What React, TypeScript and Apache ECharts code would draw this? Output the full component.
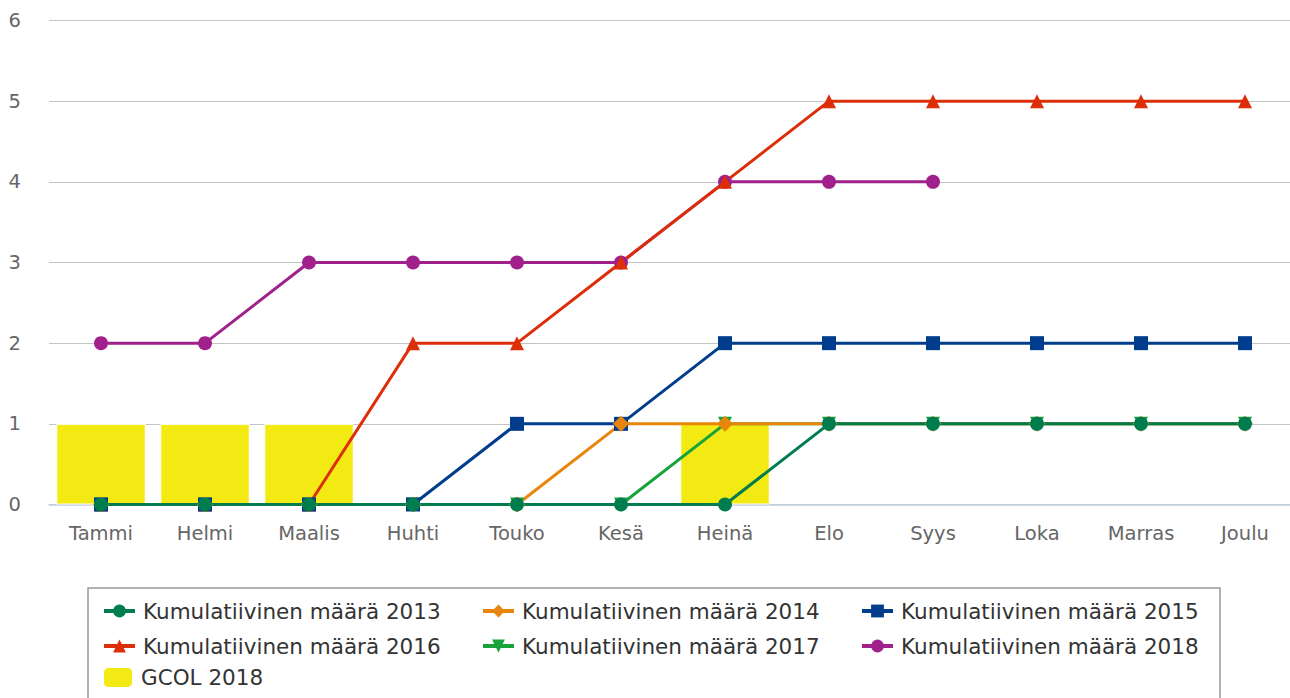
import React, { useEffect, useRef } from "react";
import * as echarts from "echarts";

const months = ["Tammi", "Helmi", "Maalis", "Huhti", "Touko", "Kesä", "Heinä", "Elo", "Syys", "Loka", "Marras", "Joulu"];
const yTicks = [0, 1, 2, 3, 4, 5, 6];
const s2013 = [0, 0, 0, 0, 0, 0, 0, 1, 1, 1, 1, 1];
const s2014 = [0, 0, 0, 0, 0, 1, 1, 1, 1, 1, 1, 1];
const s2015 = [0, 0, 0, 0, 1, 1, 2, 2, 2, 2, 2, 2];
const s2016 = [0, 0, 0, 2, 2, 3, 4, 5, 5, 5, 5, 5];
const s2017 = [0, 0, 0, 0, 0, 0, 1, 1, 1, 1, 1, 1];
const s2018 = [2, 2, 3, 3, 3, 3, 4, 4, 4, null, null, null];
const gcol2018 = [1, 1, 1, null, null, null, 1, null, null, null, null, null];

const names = [
  "Kumulatiivinen määrä 2013",
  "Kumulatiivinen määrä 2014",
  "Kumulatiivinen määrä 2015",
  "Kumulatiivinen määrä 2016",
  "Kumulatiivinen määrä 2017",
  "Kumulatiivinen määrä 2018",
  "GCOL 2018",
];

const FONT = "DejaVu Sans";

export default function App() {
  const ref = useRef<HTMLDivElement>(null);
  useEffect(() => {
    if (!ref.current) return;
    const chart = echarts.init(ref.current, undefined, { renderer: "svg" });
    const line = (name: string, data: (number | null)[], color: string, symbol: string, rotate = 0, size = 14) => ({
      name,
      type: "line",
      data,
      symbol,
      symbolSize: size,
      symbolRotate: rotate,
      showAllSymbol: true,
      lineStyle: { color, width: 3 },
      itemStyle: { color },
      connectNulls: false,
    });
    const legendBase = {
      orient: "vertical",
      padding: 0,
      itemWidth: 31,
      itemHeight: 16,
      itemGap: 13,
      lineStyle: { width: 4 },
      textStyle: { fontFamily: FONT, fontSize: 21.5, color: "#333", lineHeight: 20, padding: [0, 0, 0, 3] },
      selectedMode: false,
    };
    chart.setOption({
      animation: false,
      backgroundColor: "#fff",
      grid: { left: 49, top: 20.5, width: 1248, height: 484, containLabel: false },
      xAxis: {
        type: "category",
        data: months,
        boundaryGap: true,
        axisLine: { lineStyle: { color: "#c3d1e0", width: 1.5 } },
        axisTick: { length: 17, lineStyle: { color: "#c3d1e0", width: 1.5 } },
        axisLabel: { fontFamily: FONT, fontSize: 19.5, color: "#666", margin: 19 },
      },
      yAxis: {
        type: "value",
        min: yTicks[0],
        max: yTicks[yTicks.length - 1],
        interval: 1,
        axisLine: { show: false },
        axisTick: { show: false },
        splitLine: { lineStyle: { color: "#c4c4c4", width: 1.2 } },
        axisLabel: { fontFamily: FONT, fontSize: 19.5, color: "#666", margin: 28 },
      },
      legend: [
        { ...legendBase, left: 102, top: 600, data: [names[0], names[3]] },
        { ...legendBase, left: 481, top: 600, data: [names[1], names[4]] },
        { ...legendBase, left: 860, top: 600, data: [names[2], names[5]] },
        { ...legendBase, left: 102, top: 666, itemWidth: 30, itemHeight: 21, data: [names[6]] },
      ],
      graphic: [
        {
          type: "rect",
          shape: { x: 88, y: 588, width: 1132, height: 140 },
          style: { fill: "none", stroke: "#999", lineWidth: 1.5 },
          silent: true,
        },
      ],
      series: [
        {
          name: names[6],
          type: "bar",
          data: gcol2018,
          barCategoryGap: "14%",
          itemStyle: { color: "#f3e913", borderColor: "#fff", borderWidth: 1 },
        },
        line(names[5], s2018, "#a0218c", "circle"),
        line(names[4], s2017, "#16a33a", "triangle", 180),
        line(names[3], s2016, "#dd2e0a", "triangle"),
        line(names[2], s2015, "#003d8c", "rect"),
        line(names[1], s2014, "#e8860c", "diamond", 0, 16),
        line(names[0], s2013, "#007d4f", "circle"),
      ],
    });
    return () => chart.dispose();
  }, []);
  return (
    <div style={{ position: "fixed", left: 0, top: 0, width: 1290, height: 698, overflow: "hidden", background: "#fff" }}>
      <div ref={ref} style={{ width: 1310, height: 698 }} />
    </div>
  );
}
